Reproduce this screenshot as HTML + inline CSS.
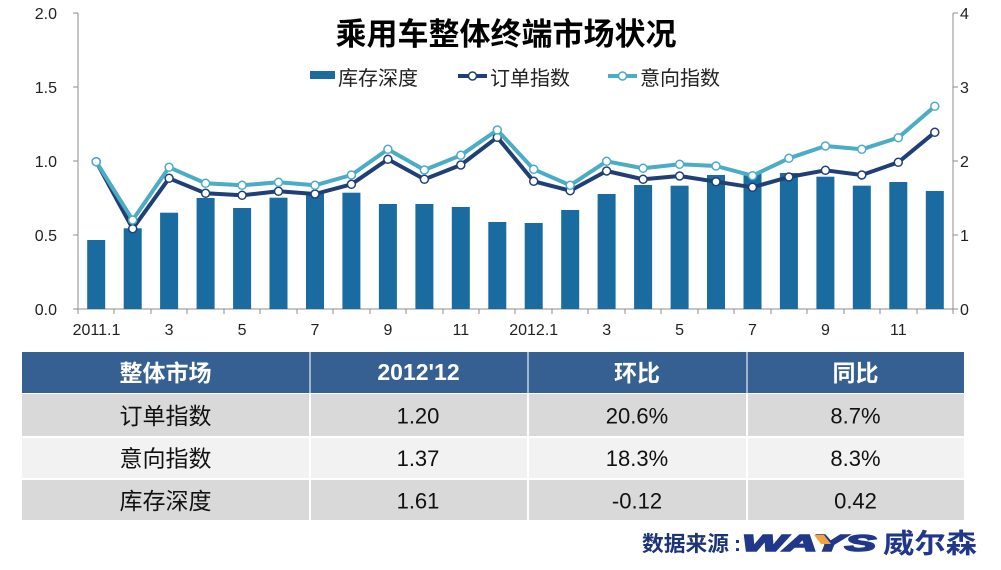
<!DOCTYPE html>
<html>
<head>
<meta charset="utf-8">
<style>
html,body{margin:0;padding:0;background:#fff;}
body{width:1001px;height:570px;overflow:hidden;}
svg{display:block;font-family:"Liberation Sans","Noto Sans CJK SC",sans-serif;}
</style>
</head>
<body>
<svg width="1001" height="570" viewBox="0 0 1001 570" xmlns="http://www.w3.org/2000/svg">
  <rect width="1001" height="570" fill="#fff"/>

  <!-- Title -->
  <text x="506" y="45" text-anchor="middle" font-size="31" font-weight="700" fill="#000" font-family="'Liberation Sans','Noto Sans CJK SC',sans-serif">乘用车整体终端市场状况</text>

  <!-- Legend -->
  <rect x="310" y="71" width="25" height="8" fill="#1A6B9F"/>
  <text x="338" y="85" font-size="20" fill="#222">库存深度</text>
  <line x1="458" y1="76" x2="487" y2="76" stroke="#203F74" stroke-width="4"/>
  <circle cx="472.5" cy="76" r="4" fill="#fff" stroke="#203F74" stroke-width="1.5"/>
  <text x="490" y="85" font-size="20" fill="#222">订单指数</text>
  <line x1="608" y1="76" x2="637" y2="76" stroke="#4BACC6" stroke-width="4"/>
  <circle cx="622.5" cy="76" r="4" fill="#fff" stroke="#4BACC6" stroke-width="1.5"/>
  <text x="640" y="85" font-size="20" fill="#222">意向指数</text>

  <!-- Axes -->
  <g stroke="#8c8c8c" stroke-width="1" shape-rendering="crispEdges">
    <line x1="78" y1="13" x2="78" y2="309"/>
    <line x1="953" y1="13" x2="953" y2="309"/>
    <line x1="73" y1="309" x2="958" y2="309"/>
    <line x1="73" y1="13" x2="78" y2="13"/>
    <line x1="73" y1="87" x2="78" y2="87"/>
    <line x1="73" y1="161" x2="78" y2="161"/>
    <line x1="73" y1="235" x2="78" y2="235"/>
    <line x1="953" y1="13" x2="958" y2="13"/>
    <line x1="953" y1="87" x2="958" y2="87"/>
    <line x1="953" y1="161" x2="958" y2="161"/>
    <line x1="953" y1="235" x2="958" y2="235"/>
  </g>
  <g id="xticks" stroke="#8c8c8c" stroke-width="1" shape-rendering="crispEdges"></g>

  <!-- Y labels -->
  <g font-size="16" fill="#222" text-anchor="end">
    <text x="57" y="19">2.0</text>
    <text x="57" y="93">1.5</text>
    <text x="57" y="167">1.0</text>
    <text x="57" y="241">0.5</text>
    <text x="57" y="315">0.0</text>
  </g>
  <g font-size="16" fill="#222">
    <text x="960" y="19">4</text>
    <text x="960" y="93">3</text>
    <text x="960" y="167">2</text>
    <text x="960" y="241">1</text>
    <text x="960" y="315">0</text>
  </g>

  <!-- X labels -->
  <g font-size="16" fill="#222" text-anchor="middle">
    <text x="96.5" y="335">2011.1</text>
    <text x="169.1" y="335">3</text>
    <text x="242.1" y="335">5</text>
    <text x="315" y="335">7</text>
    <text x="387.9" y="335">9</text>
    <text x="460.8" y="335">11</text>
    <text x="533.7" y="335">2012.1</text>
    <text x="606.7" y="335">3</text>
    <text x="679.6" y="335">5</text>
    <text x="752.5" y="335">7</text>
    <text x="825.4" y="335">9</text>
    <text x="898.3" y="335">11</text>
  </g>

  <g id="bars" fill="#1A6B9F"></g>
  <g id="lines"></g>

  <!-- Table -->
  <rect x="22" y="352" width="942" height="41" fill="#366092"/>
  <rect x="22" y="394" width="942" height="42" fill="#D9D9D9"/>
  <rect x="22" y="438" width="942" height="40" fill="#F2F2F2"/>
  <rect x="22" y="480" width="942" height="40" fill="#D9D9D9"/>
  <g fill="#ffffff">
    <rect x="309" y="352" width="2" height="168" fill="#9fb4cf"/>
    <rect x="527" y="352" width="2" height="168" fill="#9fb4cf"/>
    <rect x="746" y="352" width="2" height="168" fill="#9fb4cf"/>
    <rect x="309" y="393" width="2" height="127"/>
    <rect x="527" y="393" width="2" height="127"/>
    <rect x="746" y="393" width="2" height="127"/>
  </g>
  <g font-size="23" font-weight="700" fill="#fff" text-anchor="middle">
    <text x="165.5" y="381">整体市场</text>
    <text x="418.5" y="380">2012'12</text>
    <text x="637" y="381">环比</text>
    <text x="855.5" y="381">同比</text>
  </g>
  <g font-size="22" fill="#111" text-anchor="middle">
    <text x="165.5" y="424" font-size="23">订单指数</text>
    <text x="418" y="423.5">1.20</text>
    <text x="637" y="423.5">20.6%</text>
    <text x="855.5" y="423.5">8.7%</text>
    <text x="165.5" y="466.5" font-size="23">意向指数</text>
    <text x="418" y="466">1.37</text>
    <text x="637" y="466">18.3%</text>
    <text x="855.5" y="466">8.3%</text>
    <text x="165.5" y="509" font-size="23">库存深度</text>
    <text x="418" y="508.5">1.61</text>
    <text x="637" y="508.5">-0.12</text>
    <text x="855.5" y="508.5">0.42</text>
  </g>

  <!-- Footer -->
  <text x="642" y="551" font-size="21" font-weight="700" fill="#1E3479" textLength="87" lengthAdjust="spacingAndGlyphs">数据来源</text>
  <text x="734" y="551" font-size="21" font-weight="700" fill="#1E3479">:</text>
  <text x="742" y="551" font-size="23" font-weight="700" font-style="italic" fill="#21378A" stroke="#21378A" stroke-width="1.6" textLength="134" lengthAdjust="spacingAndGlyphs">WAYS</text>
  <polygon points="814,535 824,535 831,544 821,544" fill="#F2A33A"/>
  <text x="883" y="553" font-size="27" font-weight="700" fill="#21378A" textLength="94" lengthAdjust="spacingAndGlyphs">威尔森</text>
</svg>
<script>
(function(){
  var NS="http://www.w3.org/2000/svg";
  var step=36.458, x0=78;
  var cx=function(i){return x0+step*(i+0.5);};
  var xt=document.getElementById('xticks');
  for(var k=0;k<=24;k++){
    var l=document.createElementNS(NS,'line');
    var x=Math.round(x0+step*k)+0.0;
    l.setAttribute('x1',x);l.setAttribute('x2',x);
    l.setAttribute('y1',309);l.setAttribute('y2',314);
    xt.appendChild(l);
  }
  var tops=[240,228.3,212.7,198,208,197.7,192.7,192.7,204,204,207,222,223,210,194,185,185.7,175,173,173,176.7,185.7,182,191];
  var bars=document.getElementById('bars');
  tops.forEach(function(t,i){
    var r=document.createElementNS(NS,'rect');
    r.setAttribute('x',(cx(i)-9).toFixed(1));
    r.setAttribute('y',t);
    r.setAttribute('width',18);
    r.setAttribute('height',(309-t).toFixed(1));
    bars.appendChild(r);
  });
  var dark=[161.7,228.7,178.3,193.3,195.3,191.3,194,184.3,159.3,179.3,165,137.3,181.3,190.7,171,179.3,176,181.7,187.3,177,170.3,175,162.3,132.3];
  var light=[161.7,220,167.3,183.3,185.3,182.3,185.3,175,149.3,170,155.3,130,169.3,185.3,161.3,168.3,164.3,166,175.7,158.3,146,149.3,137.7,106.3];
  var g=document.getElementById('lines');
  function series(ys,color){
    var pts=ys.map(function(y,i){return cx(i).toFixed(1)+','+y;}).join(' ');
    var p=document.createElementNS(NS,'polyline');
    p.setAttribute('points',pts);
    p.setAttribute('fill','none');
    p.setAttribute('stroke',color);
    p.setAttribute('stroke-width','4');
    p.setAttribute('stroke-linejoin','round');
    g.appendChild(p);
    ys.forEach(function(y,i){
      var c=document.createElementNS(NS,'circle');
      c.setAttribute('cx',cx(i).toFixed(1));
      c.setAttribute('cy',y);
      c.setAttribute('r',4);
      c.setAttribute('fill','#fff');
      c.setAttribute('stroke',color);
      c.setAttribute('stroke-width','1.5');
      g.appendChild(c);
    });
  }
  series(dark,'#203F74');
  series(light,'#4BACC6');
})();
</script>
</body>
</html>
